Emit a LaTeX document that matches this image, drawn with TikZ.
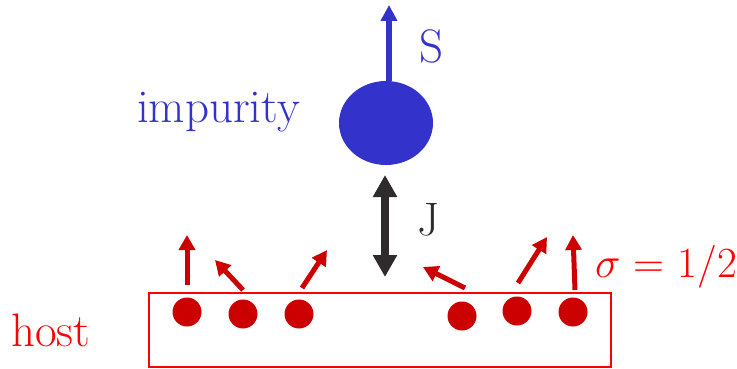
\RequirePackage{fix-cm}
\documentclass[tikz,border=0pt]{standalone}
\usepackage{fontspec}
\usetikzlibrary{arrows.meta,shapes.geometric}
\definecolor{impblue}{HTML}{3333CC}
\definecolor{dotred}{HTML}{CC0000}
\definecolor{txtred}{HTML}{FF0000}
\definecolor{darkarr}{HTML}{2F2B2C}
\tikzset{
  lbl/.style={anchor=base west, inner sep=0pt, font=\fontsize{47}{50}\selectfont},
  spin/.style={dotred, line width=5pt, -{Triangle[length=15pt,width=16pt]}},
  hostdot/.style={circle, fill=dotred, minimum size=29pt, inner sep=0pt},
}
\begin{document}
\begin{tikzpicture}[x=1pt,y=-1pt]
\useasboundingbox (0,0) rectangle (737,369);
% impurity
\node[ellipse, fill=impblue, minimum width=94pt, minimum height=84pt, inner sep=0pt] (imp) at (386,123) {};
\coordinate (simp) at (389,5);
\draw[impblue, line width=6pt, -{Triangle[length=16pt,width=16pt]}] ([xshift=3pt]imp.north) -- (simp);
\node[lbl, text=impblue] (S) at (419,63) {S};
\node[lbl, text=impblue] (implbl) at (137,123) {impurity};
% coupling
\coordinate (jtop) at (385,175);
\coordinate (jbot) at (385,277);
\draw[darkarr, line width=8pt, {Triangle[length=22pt,width=23pt]}-{Triangle[length=22pt,width=23pt]}] (jtop) -- (jbot);
\node[lbl, text=darkarr] (J) at (417,235) {J};
% host
\coordinate (hbl) at (149,367);
\coordinate (htr) at (611,293);
\draw[txtred, line width=1.2pt] (hbl) rectangle (htr);
\node[lbl, text=txtred] (hostlbl) at (11,346) {host};
\node[lbl, text=txtred, font=\fontsize{43}{46}\selectfont] (sigma) at (595,277) {$\sigma$ = 1/2};
% dots
\node[hostdot] (d1) at (187,312) {};
\node[hostdot] (d2) at (243,314) {};
\node[hostdot] (d3) at (299,314) {};
\node[hostdot] (d4) at (462,316) {};
\node[hostdot] (d5) at (517,311) {};
\node[hostdot] (d6) at (573,312) {};
% spins
\coordinate (s1a) at (187,285); \coordinate (s1b) at (187,235);
\coordinate (s2a) at (243,290); \coordinate (s2b) at (215,260);
\coordinate (s3a) at (302,288); \coordinate (s3b) at (327,250);
\coordinate (s4a) at (465,288); \coordinate (s4b) at (423,267);
\coordinate (s5a) at (518,283); \coordinate (s5b) at (547,237);
\coordinate (s6a) at (575,290); \coordinate (s6b) at (573,235);
\draw[spin] (s1a) -- (s1b);
\draw[spin] (s2a) -- (s2b);
\draw[spin] (s3a) -- (s3b);
\draw[spin] (s4a) -- (s4b);
\draw[spin] (s5a) -- (s5b);
\draw[spin] (s6a) -- (s6b);
\end{tikzpicture}
\end{document}
